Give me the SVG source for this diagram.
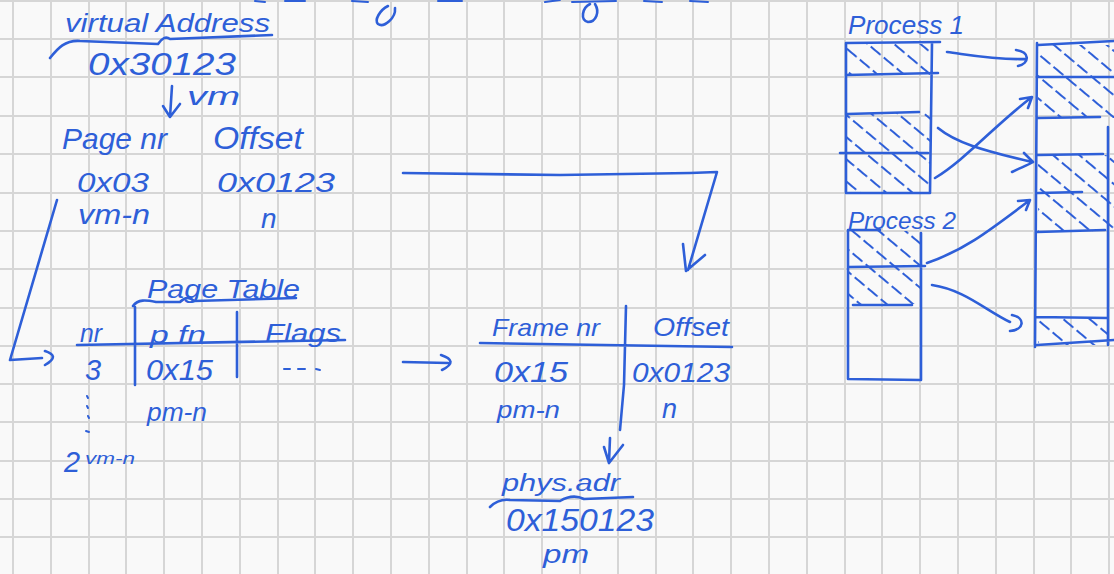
<svg xmlns="http://www.w3.org/2000/svg" width="1114" height="574" viewBox="0 0 1114 574">
<style>
.g{stroke:#d6d6d6;stroke-width:2;fill:none}
.ink{stroke:#2e5fd8;stroke-width:2.6;fill:none;stroke-linecap:round;stroke-linejoin:round}
.thin{stroke:#2e5fd8;stroke-width:2;fill:none;stroke-linecap:round}
text{font-family:"Liberation Sans",Arial,sans-serif;font-style:italic;fill:#2e5fd8}
</style>
<defs>
<pattern id="hatch" patternUnits="userSpaceOnUse" width="17" height="17" patternTransform="rotate(40)">
<line x1="0" y1="3" x2="17" y2="3" stroke="#2e5fd8" stroke-width="2" stroke-linecap="round" stroke-dasharray="12 5"/>
</pattern>
</defs>
<rect width="1114" height="574" fill="#f9f9f9"/>
<g id="grid">
<path class="g" d="M13,0V574M51,0V574M89,0V574M126,0V574M164,0V574M202,0V574M240,0V574M278,0V574M315,0V574M353,0V574M391,0V574M429,0V574M467,0V574M504,0V574M542,0V574M580,0V574M618,0V574M656,0V574M693,0V574M731,0V574M769,0V574M807,0V574M845,0V574M882,0V574M920,0V574M958,0V574M996,0V574M1034,0V574M1071,0V574M1109,0V574"/>
<path class="g" d="M0,1H1114M0,39H1114M0,77H1114M0,116H1114M0,154H1114M0,193H1114M0,231H1114M0,269H1114M0,308H1114M0,346H1114M0,384H1114M0,422H1114M0,461H1114M0,499H1114M0,537H1114"/>
</g>
<g id="top-fragment">
<path class="ink" d="M388,6 C380,10 374,20 378,24 C384,28 396,18 395,8"/>
<path class="ink" d="M590,4 C582,8 580,20 588,22 C596,22 600,12 595,4"/>
<path class="thin" d="M255,1 L265,2 M285,1 L305,1 M352,1 L368,2 M438,1 L462,1 M545,2 L560,0 M572,2 L616,1 M644,1 L662,2 M690,1 L708,2"/>
</g>
<g id="virtual-address">
<text x="65" y="32" font-size="26" textLength="205" lengthAdjust="spacingAndGlyphs">virtual Address</text>
<path class="ink" d="M50,58 C58,48 65,40 80,41 L158,44 C162,38 166,36 170,39 L272,35"/>
<text x="88" y="75" font-size="31" textLength="148" lengthAdjust="spacingAndGlyphs">0x30123</text>
<path class="ink" d="M172,86 L170,117 M163,106 L170,117 L180,104"/>
<text x="187" y="105" font-size="25" textLength="53" lengthAdjust="spacingAndGlyphs">vm</text>
</g>
<g id="split">
<text x="62" y="149" font-size="29" textLength="105" lengthAdjust="spacingAndGlyphs">Page nr</text>
<text x="213" y="149" font-size="31" textLength="90" lengthAdjust="spacingAndGlyphs">Offset</text>
<text x="77" y="192" font-size="28" textLength="72" lengthAdjust="spacingAndGlyphs">0x03</text>
<text x="217" y="192" font-size="28" textLength="118" lengthAdjust="spacingAndGlyphs">0x0123</text>
<text x="78" y="224" font-size="27" textLength="72" lengthAdjust="spacingAndGlyphs">vm-n</text>
<text x="261" y="228" font-size="28">n</text>
</g>
<g id="page-table">
<text x="147" y="298" font-size="25" textLength="153" lengthAdjust="spacingAndGlyphs">Page Table</text>
<path class="ink" d="M133,306 C138,299 146,300 156,302 L180,302 C185,297 190,297 194,301 L296,298"/>
<text x="80" y="342" font-size="26" textLength="22" lengthAdjust="spacingAndGlyphs">nr</text>
<text x="150" y="343" font-size="24" textLength="56" lengthAdjust="spacingAndGlyphs">p fn</text>
<text x="265" y="342" font-size="25" textLength="76" lengthAdjust="spacingAndGlyphs">Flags</text>
<path class="ink" d="M77,345 L345,340 M135,307 L135,385 M237,312 L237,377"/>
<text x="85" y="380" font-size="29">3</text>
<text x="146" y="380" font-size="29" textLength="67" lengthAdjust="spacingAndGlyphs">0x15</text>
<path class="thin" d="M284,369 L290,369 M298,369 L305,369 M316,369 L320,370"/>
<path class="thin" d="M87,396 L88,398 M87,406 L88,408 M88,416 L89,418 M86,431 L89,432"/>
<text x="147" y="421" font-size="25" textLength="60" lengthAdjust="spacingAndGlyphs">pm-n</text>
<text x="64" y="472" font-size="29">2</text>
<text x="85" y="464" font-size="17" textLength="50" lengthAdjust="spacingAndGlyphs">vm-n</text>
</g>
<g id="frame">
<text x="492" y="336" font-size="24" textLength="108" lengthAdjust="spacingAndGlyphs">Frame nr</text>
<text x="653" y="336" font-size="25" textLength="76" lengthAdjust="spacingAndGlyphs">Offset</text>
<path class="ink" d="M480,343 L732,347 M626,306 L624,385 L620,430"/>
<text x="494" y="382" font-size="29" textLength="74" lengthAdjust="spacingAndGlyphs">0x15</text>
<text x="632" y="382" font-size="27" textLength="98" lengthAdjust="spacingAndGlyphs">0x0123</text>
<text x="497" y="418" font-size="24" textLength="63" lengthAdjust="spacingAndGlyphs">pm-n</text>
<text x="662" y="418" font-size="27">n</text>
</g>
<g id="phys-addr">
<text x="502" y="491" font-size="23" textLength="118" lengthAdjust="spacingAndGlyphs">phys.adr</text>
<path class="ink" d="M490,507 C496,501 502,499 510,500 L560,501 C570,495 578,496 584,499 L633,497"/>
<text x="506" y="531" font-size="32" textLength="148" lengthAdjust="spacingAndGlyphs">0x150123</text>
<text x="543" y="563" font-size="25" textLength="46" lengthAdjust="spacingAndGlyphs">pm</text>
</g>
<g id="process1">
<text x="848" y="34" font-size="26" textLength="116" lengthAdjust="spacingAndGlyphs">Process 1</text>
<path fill="url(#hatch)" d="M846,44H930V75H846Z M846,113H930V192H846Z"/>
<path class="ink" d="M846,43 L940,42 M846,43 L846,193 L930,193 L932,43 M846,75 L938,73 M847,114 L919,112 M840,153 L928,153"/>
</g>
<g id="process2">
<text x="848" y="229" font-size="24" textLength="108" lengthAdjust="spacingAndGlyphs">Process 2</text>
<path fill="url(#hatch)" d="M848,231H921V304H848Z"/>
<path class="ink" d="M848,230 L848,379 L921,380 L921,233 M848,230 L880,230 M848,267 L925,266 M853,305 L912,305"/>
</g>
<g id="physical-memory">
<path fill="url(#hatch)" d="M1038,45H1114V118H1038Z M1038,155H1114V232H1038Z M1038,317H1108V345H1038Z"/>
<path class="ink" d="M1037,43 L1035,347 M1038,45 L1114,41 M1038,77 L1114,77 M1038,118 L1100,117 M1038,155 L1103,154 M1038,193 L1082,192 M1037,232 L1105,230 M1036,317 L1108,318 M1037,345 L1114,340 M1108,127 L1108,345"/>
</g>
<g id="connectors">
<path class="ink" d="M57,200 L10,360 L42,358 M45,351 C54,354 57,358 45,365"/>
<path class="ink" d="M403,362 L448,363 M441,355 C453,359 454,364 442,370"/>
<path class="ink" d="M403,173 L560,175 L690,173 L717,172 L688,270 M683,244 L686,271 L705,255"/>
<path class="ink" d="M610,438 L609,462 M604,447 L609,463 M623,445 L609,463"/>
<path class="ink" d="M947,52 C970,55 995,60 1026,59 M1016,50 C1030,52 1030,63 1018,66"/>
<path class="ink" d="M938,128 C955,142 980,150 1032,162 M1012,172 C1020,168 1028,165 1033,162 M1024,153 L1033,162"/>
<path class="ink" d="M935,178 C965,160 995,125 1032,97 M1020,99 L1032,97 L1028,108"/>
<path class="ink" d="M927,263 C965,250 990,230 1030,200 M1018,201 L1030,200 L1026,210"/>
<path class="ink" d="M932,285 C965,290 985,310 1010,322 M1012,315 C1026,318 1024,330 1010,331"/>
</g>
</svg>
